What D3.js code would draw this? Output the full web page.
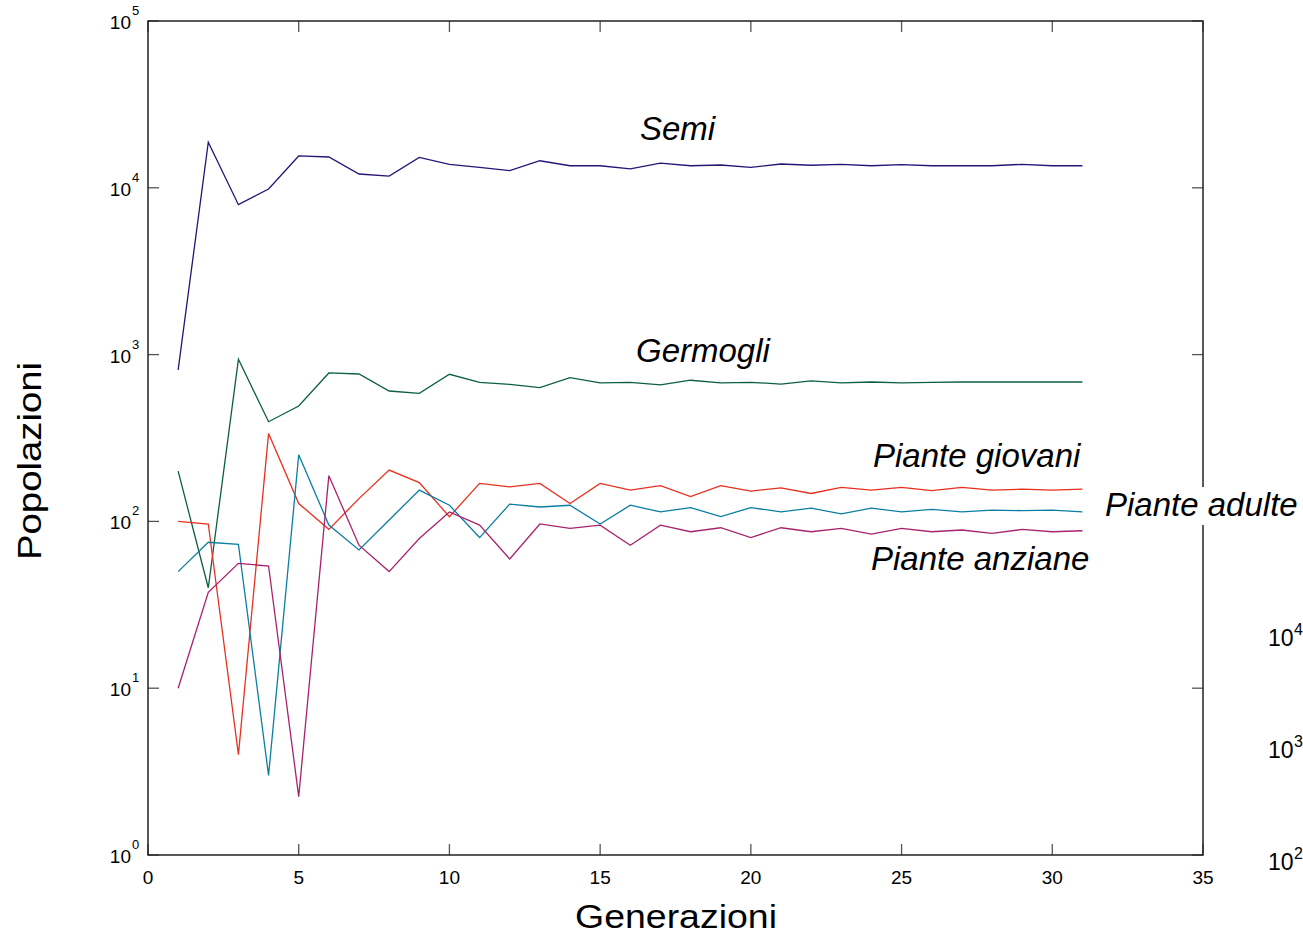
<!DOCTYPE html>
<html>
<head>
<meta charset="utf-8">
<script src="https://cdn.jsdelivr.net/npm/d3@7"></script>
<style>
  html, body { margin: 0; padding: 0; background: #fff; overflow: hidden; }
  svg { display: block; }
  text { font-family: "Liberation Sans", Arial, Helvetica, sans-serif; fill: #000; }
</style>
</head>
<body>
<script>
// Generations 1..31
const generations = d3.range(1, 32);

// Population of each life stage per generation
const semi = [809, 18750, 7920, 9840, 15520, 15300, 12100, 11760, 15200, 13830,
  13270, 12670, 14530, 13560, 13560, 13000, 14070, 13560, 13700, 13270,
  13890, 13650, 13830, 13560, 13760, 13560, 13560, 13560, 13830, 13560, 13560];
const germogli = [200, 40, 937, 396, 492, 776, 765, 605, 586, 762,
  682, 663, 634, 727, 676, 682, 658, 702, 676, 682,
  666, 695, 676, 685, 676, 682, 685, 685, 685, 685, 685];
const pianteGiovani = [100, 96.5, 4.0, 337, 128, 89.6, 137, 203, 171, 106.6,
  169, 161, 169, 128, 169, 154, 164, 141, 164, 152,
  159, 147, 160, 154, 160, 153, 160, 154, 156, 154, 156];
const pianteAdulte = [50, 75, 72.9, 3.0, 251, 95, 67.4, 102, 154, 125,
  80, 127, 122, 125, 96.5, 125, 114, 121, 107, 121,
  114, 120, 111, 120, 114, 118, 114, 117, 116, 117, 114];
const pianteAnziane = [10, 37.6, 56, 54, 2.24, 188, 72, 50, 79, 114,
  95, 59.5, 96.5, 90.8, 95, 72, 95, 86.7, 91.6, 80,
  91.6, 86.7, 90.8, 84, 90.8, 86.7, 88.8, 84.7, 89.5, 86.7, 87.9];

// Axis ticks
const xTicks = [0, 5, 10, 15, 20, 25, 30, 35];
const yTickExponents = [0, 1, 2, 3, 4, 5];
const strayExponents = [4, 3, 2];

const series = [
  { name: "Semi", values: semi, color: "#2a1277" },
  { name: "Germogli", values: germogli, color: "#0c6040" },
  { name: "Piante giovani", values: pianteGiovani, color: "#e8301e" },
  { name: "Piante adulte", values: pianteAdulte, color: "#0b7ea3" },
  { name: "Piante anziane", values: pianteAnziane, color: "#a8226c" }
];

const W = 1303, H = 936;
const plotLeft = 148, plotRight = 1203, plotTop = 21, plotBottom = 855;

const svg = d3.select("body").append("svg").attr("width", W).attr("height", H);

const x = d3.scaleLinear().domain([0, 35]).range([plotLeft, plotRight]);
const y = d3.scaleLog().domain([1, 1e5]).range([plotBottom, plotTop]);

// Inward ticks on all four sides
const tickLen = 11;
const ticks = svg.append("g").attr("stroke", "#555").attr("stroke-width", 1.3);
xTicks.forEach(t => {
  ticks.append("line").attr("x1", x(t)).attr("x2", x(t)).attr("y1", plotBottom).attr("y2", plotBottom - tickLen);
  ticks.append("line").attr("x1", x(t)).attr("x2", x(t)).attr("y1", plotTop).attr("y2", plotTop + tickLen);
});
yTickExponents.forEach(e => {
  const v = Math.pow(10, e);
  ticks.append("line").attr("x1", plotLeft).attr("x2", plotLeft + tickLen).attr("y1", y(v)).attr("y2", y(v));
  ticks.append("line").attr("x1", plotRight).attr("x2", plotRight - tickLen).attr("y1", y(v)).attr("y2", y(v));
});

// Plot frame
svg.append("rect")
  .attr("x", plotLeft).attr("y", plotTop)
  .attr("width", plotRight - plotLeft).attr("height", plotBottom - plotTop)
  .attr("fill", "none").attr("stroke", "#222").attr("stroke-width", 1.5);

// X tick labels
svg.append("g").selectAll("text").data(xTicks).join("text")
  .attr("x", d => x(d)).attr("y", plotBottom + 29)
  .attr("text-anchor", "middle").attr("font-size", 19)
  .attr("fill", "#222")
  .text(d => d);

// Y tick labels as powers of ten
const yl = svg.append("g");
yTickExponents.forEach(e => {
  const py = y(Math.pow(10, e));
  yl.append("text").attr("x", 131).attr("y", py + 8)
    .attr("text-anchor", "end").attr("font-size", 19).attr("fill", "#222").text("10");
  yl.append("text").attr("x", 132).attr("y", py - 6)
    .attr("font-size", 13).attr("fill", "#222").text(e);
});

// Population curves
const line = d3.line().x((d, i) => x(generations[i])).y(d => y(d));
svg.append("g").selectAll("path").data(series).join("path")
  .attr("d", d => line(d.values))
  .attr("fill", "none")
  .attr("stroke", d => d.color)
  .attr("stroke-width", 1.3)
  .attr("stroke-linejoin", "miter");

// Curve labels
const labelFont = 33;
const labels = [
  { text: "Semi", x: 640, y: 140 },
  { text: "Germogli", x: 636, y: 362 },
  { text: "Piante giovani", x: 873, y: 467 },
  { text: "Piante anziane", x: 871, y: 570 }
];
labels.forEach(l => {
  svg.append("text").attr("x", l.x).attr("y", l.y)
    .attr("font-size", labelFont).attr("font-style", "italic").text(l.text);
});

// "Piante adulte" sits on a white box over the right edge of the frame
svg.append("rect").attr("x", 1102).attr("y", 487).attr("width", 210).attr("height", 38).attr("fill", "#fff");
svg.append("text").attr("x", 1105).attr("y", 516)
  .attr("font-size", labelFont).attr("font-style", "italic").text("Piante adulte");

// Axis titles
svg.append("text").attr("x", 676).attr("y", 928)
  .attr("text-anchor", "middle").attr("font-size", 34)
  .attr("textLength", 202).attr("lengthAdjust", "spacingAndGlyphs")
  .text("Generazioni");
svg.append("text")
  .attr("transform", "translate(41,461) rotate(-90)")
  .attr("text-anchor", "middle").attr("font-size", 34)
  .attr("textLength", 198).attr("lengthAdjust", "spacingAndGlyphs")
  .text("Popolazioni");

// Stray power-of-ten labels along the right edge
strayExponents.forEach((e, i) => {
  const by = 646 + i * 112;
  svg.append("text").attr("x", 1268).attr("y", by).attr("font-size", 23).attr("fill", "#222").text("10");
  svg.append("text").attr("x", 1294).attr("y", by - 11).attr("font-size", 16).attr("fill", "#222").text(e);
});
</script>
</body>
</html>
